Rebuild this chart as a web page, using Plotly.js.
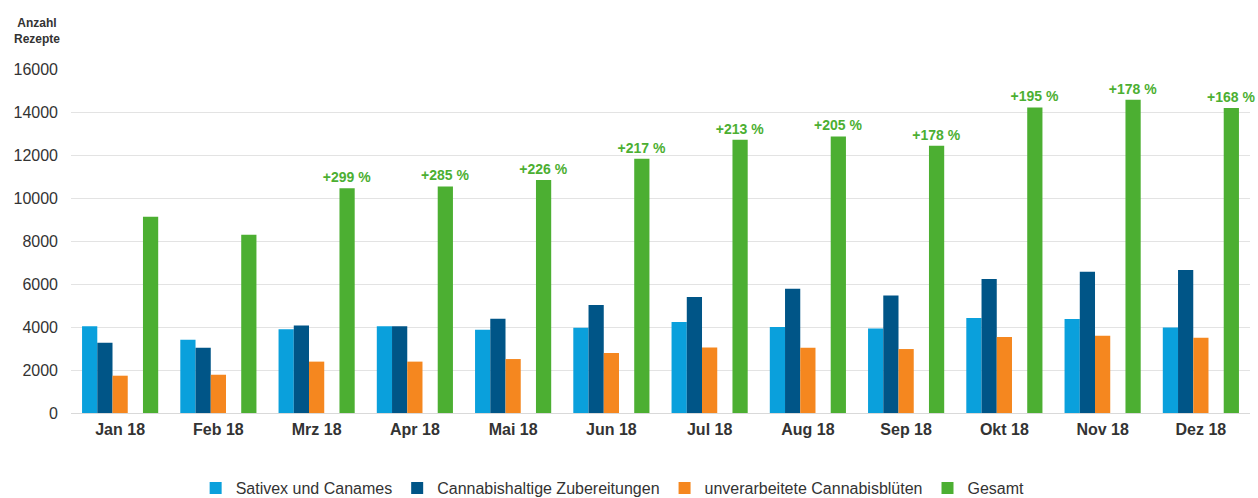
<!DOCTYPE html>
<html>
<head>
<meta charset="utf-8">
<script src="https://cdn.plot.ly/plotly-3.0.1.min.js"></script>
<style>html,body{margin:0;padding:0;background:#fff;}#chart{width:1258px;height:498px;}</style>
</head>
<body>
<div id="chart"></div>
<script>
const months = ["Jan 18","Feb 18","Mrz 18","Apr 18","Mai 18","Jun 18","Jul 18","Aug 18","Sep 18","Okt 18","Nov 18","Dez 18"];
const sativex = [4030,3410,3890,4030,3875,3970,4230,4000,3935,4420,4370,3980];
const zubereitungen = [3270,3040,4075,4030,4385,5020,5395,5780,5470,6230,6570,6650];
const blueten = [1735,1780,2390,2390,2510,2790,3050,3035,2975,3535,3595,3500];
const gesamt = [9130,8290,10450,10540,10840,11830,12710,12865,12430,14215,14570,14185];
const pctLabels = ["","","+299 %","+285 %","+226 %","+217 %","+213 %","+205 %","+178 %","+195 %","+178 %","+168 %"];
const yTicks = [0,2000,4000,6000,8000,10000,12000,14000,16000];

const font = "Liberation Sans, Arial, sans-serif";
const traces = [
  {type:"bar", name:"Sativex und Canames", x:months, y:sativex, marker:{color:"#0aa0dc"}},
  {type:"bar", name:"Cannabishaltige Zubereitungen", x:months, y:zubereitungen, marker:{color:"#005587"}},
  {type:"bar", name:"unverarbeitete Cannabisblüten", x:months, y:blueten, marker:{color:"#f5871f"}},
  {type:"bar", name:"", x:months, y:months.map(()=>null), showlegend:false, hoverinfo:"skip", marker:{color:"rgba(0,0,0,0)"}},
  {type:"bar", name:"Gesamt", x:months, y:gesamt, marker:{color:"#4caf32"},
   text:pctLabels, textposition:"outside", cliponaxis:false, constraintext:"none",
   textfont:{family:font, size:14, color:"#4caf32", weight:"bold"}}
];

const layout = {
  width:1258, height:498,
  margin:{l:71, r:8, t:69, b:85, autoexpand:false},
  paper_bgcolor:"#fff", plot_bgcolor:"#fff",
  barmode:"group", bargap:0.225, bargroupgap:0,
  font:{family:font, color:"#333"},
  showlegend:true,
  legend:{orientation:"h", x:0.487, xref:"container", xanchor:"center", y:0.02, yref:"container", yanchor:"middle",
          font:{family:font, size:16, color:"#333"}, itemwidth:30, tracegroupgap:0},
  xaxis:{type:"category", showgrid:false, zeroline:false, showline:false, ticks:"", automargin:false,
         tickfont:{family:font, size:16, color:"#333", weight:"bold"}, ticklabelstandoff:5},
  yaxis:{range:[0,16000], tickvals:yTicks, ticktext:yTicks.map(String), automargin:false,
         showgrid:true, gridcolor:"#e3e3e3", gridwidth:1, zeroline:true, zerolinecolor:"#d9d9d9", zerolinewidth:1,
         showline:false, ticks:"", ticklabelstandoff:12,
         tickfont:{family:font, size:16, color:"#333"}},
  annotations:[{xref:"paper", yref:"paper", x:-0.029, y:1.11, xanchor:"center", yanchor:"middle",
                text:"<b>Anzahl<br>Rezepte</b>", showarrow:false, align:"center",
                font:{family:font, size:12, color:"#333"}}]
};

Plotly.newPlot("chart", traces, layout, {displayModeBar:false, staticPlot:true});
</script>
</body>
</html>
